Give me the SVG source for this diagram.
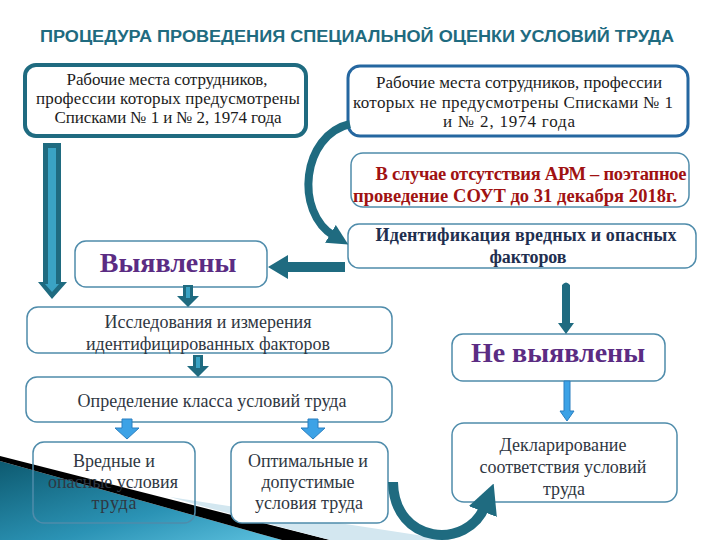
<svg xmlns="http://www.w3.org/2000/svg" width="720" height="540" viewBox="0 0 720 540">
<defs>
<style>
.title{font-family:"Liberation Sans",Arial,sans-serif;font-weight:bold;font-size:16px;fill:#1f6b80}
.t{text-anchor:middle}
.hd{font-size:17px;fill:#1c1c1c}
.red{font-size:18.5px;font-weight:bold;fill:#a01212}
.navy{font-size:18px;font-weight:bold;fill:#1f2f4f}
.big{font-size:28px;font-weight:bold;fill:#5b2c83}
.body{font-size:18px;fill:#2f3742}
.thick{fill:#fff;stroke:#1f6b80;stroke-width:4}
.thickb{fill:#fff;stroke:#2567a0;stroke-width:3}
.thin{fill:#fff;stroke:#4f8cab;stroke-width:1.5}
.thinT{fill:none;stroke:#4f8cab;stroke-width:1.5}
.teal{fill:#1f6b80}
.tealhi{fill:#3aa3c4}
.blue{fill:#3ca2e6;stroke:#2a7fc0;stroke-width:1}
</style>
<marker id="ah" viewBox="0 0 10 10" refX="2" refY="5" markerWidth="2.6" markerHeight="2.6" orient="auto" markerUnits="strokeWidth">
<path d="M0,0 L10,5 L0,10 Z" fill="#1f6b80"/>
</marker>
<marker id="ah2" viewBox="0 0 10 10" refX="2" refY="5" markerWidth="3" markerHeight="3" orient="auto" markerUnits="strokeWidth">
<path d="M0,0 L10,5 L0,10 Z" fill="#1f6b80"/>
</marker>
<linearGradient id="bandg" x1="0" y1="0" x2="1" y2="1">
<stop offset="0" stop-color="#0d5a70"/>
<stop offset="0.6" stop-color="#2b93b5"/>
<stop offset="1" stop-color="#5cc0de"/>
</linearGradient>
</defs>
<rect width="720" height="540" fill="#fff"/>

<g id="band">
<polygon points="0,461 282,540 0,540" fill="url(#bandg)"/>
<polygon points="0,456 330,540 282,540 0,461" fill="#000"/>
<polygon points="170,497 450,540 330,540 205,507" fill="#d3e7f0"/>
</g>

<text class="title" x="40" y="42" textLength="634" lengthAdjust="spacingAndGlyphs">ПРОЦЕДУРА ПРОВЕДЕНИЯ СПЕЦИАЛЬНОЙ ОЦЕНКИ УСЛОВИЙ ТРУДА</text>

<g font-family="'Liberation Serif', 'Times New Roman', serif">
<g id="n1">
<rect class="thick" x="25" y="65" width="281" height="71" rx="11"/>
<text class="t hd" x="167" y="85" textLength="201">Рабочие места сотрудников,</text>
<text class="t hd" x="168" y="104" textLength="264">профессии которых  предусмотрены</text>
<text class="t hd" x="168" y="123" textLength="227">Списками № 1 и № 2, 1974 года</text>
</g>

<g id="n2">
<rect class="thickb" x="348" y="66" width="340" height="70" rx="12"/>
<text class="t hd" x="519" y="88" textLength="286">Рабочие места сотрудников, профессии</text>
<text class="t hd" x="513" y="108" textLength="320">которых не предусмотрены Списками № 1</text>
<text class="t hd" x="509" y="127" textLength="132">и № 2, 1974 года</text>
</g>

<g id="n3">
<rect class="thin" x="351" y="153" width="338" height="54" rx="12"/>
<text class="t red" x="531" y="180" textLength="311">В случае отсутствия АРМ – поэтапное</text>
<text class="t red" x="515" y="202" textLength="324">проведение СОУТ до 31 декабря 2018г.</text>
</g>

<g id="n4">
<rect class="thin" x="348" y="224" width="348" height="44" rx="11"/>
<text class="t navy" x="526" y="241" textLength="301">Идентификация вредных и опасных</text>
<text class="t navy" x="528" y="263" textLength="77">факторов</text>
</g>

<g id="n5">
<rect class="thin" x="75" y="241" width="192" height="46" rx="11"/>
<text class="t big" x="168" y="272">Выявлены</text>
</g>

<g id="n6">
<rect class="thin" x="27" y="307" width="365" height="46" rx="11"/>
<text class="t body" x="208" y="328" textLength="207">Исследования и измерения</text>
<text class="t body" x="208" y="350" textLength="244">идентифицированных факторов</text>
</g>

<g id="n7">
<rect class="thin" x="26" y="377" width="366" height="45" rx="11"/>
<text class="t body" x="212" y="407" textLength="269">Определение класса условий труда</text>
</g>

<g id="n8">
<rect class="thinT" x="33" y="442" width="162" height="81" rx="11"/>
<text class="t body" x="114" y="467" textLength="82">Вредные и</text>
<text class="t body" x="113" y="488" textLength="130">опасные условия</text>
<text class="t body" x="114" y="509" textLength="45">труда</text>
</g>

<g id="n9">
<rect class="thin" x="231" y="442" width="157" height="81" rx="11"/>
<text class="t body" x="308" y="467" textLength="120">Оптимальные и</text>
<text class="t body" x="308" y="488" textLength="93">допустимые</text>
<text class="t body" x="309" y="509" textLength="108">условия труда</text>
</g>

<g id="n10">
<rect class="thin" x="452" y="334" width="213" height="47" rx="11"/>
<text class="t big" x="558" y="362">Не выявлены</text>
</g>

<g id="n11">
<rect class="thin" x="452" y="423" width="225" height="79" rx="12"/>
<text class="t body" x="563" y="451" textLength="127">Декларирование</text>
<text class="t body" x="563" y="473" textLength="167">соответствия условий</text>
<text class="t body" x="564" y="495" textLength="42">труда</text>
</g>
</g>

<g id="connectors">
<polygon class="teal" points="43,143 61,143 61,282 67,282 52,299 38,282 43,282"/>
<polygon class="tealhi" points="48,148 56,148 56,284 59,284 52,292 45,284 48,284"/>
<path d="M350,124 C302,135 294,212 334,236" fill="none" stroke="#1f6b80" stroke-width="8" marker-end="url(#ah)"/>
<polygon class="teal" points="345,262 288,262 288,255 268,267 288,279 288,272 345,272"/>
<polygon class="teal" points="183,285 193,285 193,296 199,296 188,307 177,296 183,296"/>
<rect class="tealhi" x="186" y="287" width="4" height="11"/>
<polygon class="teal" points="193,355 203,355 203,366 209,366 198,377 187,366 193,366"/>
<rect class="tealhi" x="196" y="357" width="4" height="11"/>
<polygon class="blue" points="122,419 132,419 132,428 139,428 127,439 115,428 122,428"/>
<polygon class="blue" points="308,419 318,419 318,428 325,428 313,439 301,428 308,428"/>
<path class="teal" d="M562,285 Q566,280 570,285 L570,323 L574,323 L566,334 L558,323 L562,323 Z"/>
<polygon class="blue" points="564,381 570,381 570,411 574,411 567,421 560,411 564,411"/>
<path d="M393,482 C394,545 468,550 485,506" fill="none" stroke="#1f6b80" stroke-width="10" marker-end="url(#ah2)"/>
</g>
</svg>
